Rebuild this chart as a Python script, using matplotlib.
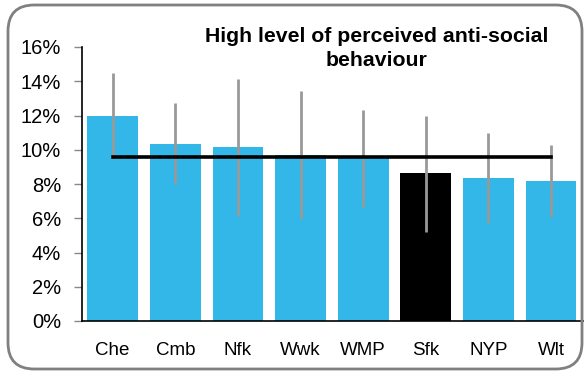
import matplotlib
matplotlib.use("Agg")
import matplotlib.pyplot as plt
from matplotlib.patches import FancyBboxPatch
from matplotlib.ticker import FuncFormatter

categories = ["Che", "Cmb", "Nfk", "Wwk", "WMP", "Sfk", "NYP", "Wlt"]
values = [12.0, 10.35, 10.15, 9.7, 9.5, 8.65, 8.35, 8.2]
err_low = [9.45, 7.98, 6.13, 5.94, 6.64, 5.22, 5.70, 6.09]
err_high = [14.46, 12.71, 14.15, 13.45, 12.32, 11.99, 10.96, 10.26]
average = [9.6] * len(categories)
highlight = "Sfk"
title = "High level of perceived anti-social\nbehaviour"

plt.rcParams['font.family'] = ['Liberation Sans', 'DejaVu Sans']

fig = plt.figure(figsize=(5.84, 3.71), dpi=100)
ax = fig.add_axes([82/584, 1-321/371, (583-82)/584, (321-47)/371])

x = list(range(len(categories)))
colors = ["#000000" if c == highlight else "#33B6E8" for c in categories]
ax.bar(x, values, width=0.81, color=colors, zorder=2)
ax.vlines(x, err_low, err_high, color="#999999", linewidth=2, zorder=3)
ax.plot(x, average, color="black", linewidth=2.6, zorder=4)

ax.set_xlim(-0.49, 7.51)
ax.set_ylim(0, 16)
ax.set_yticks(range(0, 17, 2))
ax.yaxis.set_major_formatter(FuncFormatter(lambda v, p: f"{int(v)}%"))
ax.set_xticks(x)
ax.set_xticklabels(categories)
ax.tick_params(axis='y', direction='out', length=6, width=1, color="#888888",
               labelsize=14.5, pad=9, labelcolor="black")
ax.tick_params(axis='x', length=0, labelsize=13.5, pad=15)
for s in ["top", "right"]:
    ax.spines[s].set_visible(False)
ax.spines["left"].set_linewidth(1.2)
ax.spines["bottom"].set_linewidth(1.2)
ax.patch.set_alpha(0)

frame = FancyBboxPatch((8/584, 1-369/371), (582-8)/584, (369-5)/371,
                       boxstyle="round,pad=0,rounding_size=0.045",
                       transform=fig.transFigure, facecolor="none",
                       edgecolor="#808080", linewidth=2, mutation_aspect=584/371)
fig.patches.append(frame)

fig.text(377/584, 1-27/371, title, ha="center", va="top", fontsize=15.3,
         fontweight="bold", linespacing=1.3)

fig.savefig("out.png", dpi=100)
